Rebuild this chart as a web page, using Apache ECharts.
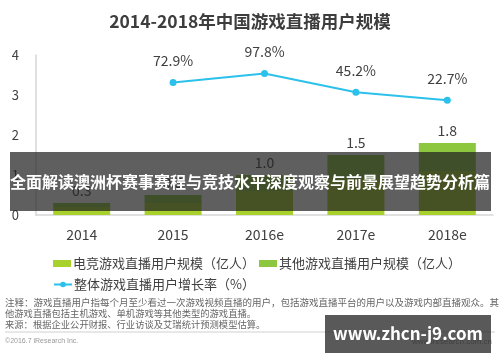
<!DOCTYPE html>
<html>
<head>
<meta charset="utf-8">
<script src="https://cdn.jsdelivr.net/npm/echarts@6/dist/echarts.min.js"></script>
<style>
html,body{margin:0;padding:0;background:#fff;}
#c{width:500px;height:362px;}
</style>
</head>
<body>
<div id="c"></div>
<script>
var categories = ['2014', '2015', '2016e', '2017e', '2018e'];
var esportsUsers = [0.2, 0.3, 0.6, 0.9, 1.1];
var otherUsers = [0.1, 0.2, 0.4, 0.6, 0.7];
var growthRate = [null, 72.9, 97.8, 45.2, 22.7];
var yTicks = [0, 1, 2, 3, 4];

var seriesNames = ['电竞游戏直播用户规模（亿人）', '其他游戏直播用户规模（亿人）', '整体游戏直播用户增长率（%）'];
var FONT = '"Noto Sans CJK SC", "Noto Sans", sans-serif';

var chart = echarts.init(document.getElementById('c'), null, {renderer: 'canvas'});
chart.setOption({
  animation: false,
  backgroundColor: '#fff',
  textStyle: {fontFamily: FONT},
  title: {
    text: '2014-2018年中国游戏直播用户规模',
    left: 'center', top: 8,
    textStyle: {fontSize: 17.5, fontWeight: 'bold', color: '#3d3d3d', fontFamily: FONT}
  },
  legend: [{
    data: [seriesNames[0], seriesNames[1]],
    left: 48, top: 252, itemWidth: 18, itemHeight: 7, itemGap: 4,
    icon: 'rect',
    textStyle: {fontSize: 13, color: '#404040', fontFamily: FONT, padding: [0, 0, 0, -3]}
  }, {
    data: [seriesNames[2]],
    left: 48, top: 273, itemWidth: 18, itemHeight: 7,
    textStyle: {fontSize: 13, color: '#404040', fontFamily: FONT, padding: [0, 0, 0, -3]}
  }],
  grid: {left: 36, right: 7, top: 55, bottom: 147},
  xAxis: {
    type: 'category', data: categories,
    axisLine: {lineStyle: {color: '#d6d6d6', width: 1.5}},
    axisTick: {show: false},
    axisLabel: {fontSize: 14, color: '#404040', margin: 13, fontFamily: FONT}
  },
  yAxis: [{
    type: 'value', min: yTicks[0], max: yTicks[yTicks.length - 1], interval: 1,
    axisLine: {show: true, lineStyle: {color: '#d6d6d6', width: 1.5}},
    axisTick: {show: false},
    splitLine: {show: false},
    axisLabel: {fontSize: 13, color: '#404040', margin: 17, align: 'right', fontFamily: FONT}
  }, {
    type: 'value', min: -300, max: 150, show: false, splitLine: {show: false}
  }],
  series: [{
    name: seriesNames[0], type: 'bar', stack: 'users', data: esportsUsers,
    barWidth: 57, itemStyle: {color: '#a9d12c'}
  }, {
    name: seriesNames[1], type: 'bar', stack: 'users', data: otherUsers,
    barWidth: 57, itemStyle: {color: '#8dc63f'},
    label: {
      show: true, position: 'top', distance: 5, fontSize: 14, color: '#404040', fontFamily: FONT,
      formatter: function (p) { return (esportsUsers[p.dataIndex] + otherUsers[p.dataIndex]).toFixed(1); }
    }
  }, {
    name: seriesNames[2], type: 'line', yAxisIndex: 1, data: growthRate,
    symbol: 'circle', symbolSize: 7,
    lineStyle: {color: '#2cc1ea', width: 2}, itemStyle: {color: '#2cc1ea'},
    label: {
      show: true, position: 'top', distance: 11, fontSize: 14, color: '#404040', fontFamily: FONT,
      formatter: function (p) { return p.value.toFixed(1) + '%'; }
    }
  }],
  graphic: [
    {type: 'text', left: 5, top: 298, style: {text: '注释：游戏直播用户指每个月至少看过一次游戏视频直播的用户，包括游戏直播平台的用户以及游戏内部直播观众。其', fill: '#666', font: '9.5px ' + FONT}},
    {type: 'text', left: 5, top: 309, style: {text: '他游戏直播包括主机游戏、单机游戏等其他类型的游戏直播。', fill: '#666', font: '9.3px ' + FONT}},
    {type: 'text', left: 5, top: 320, style: {text: '来源：根据企业公开财报、行业访谈及艾瑞统计预测模型估算。', fill: '#666', font: '9.3px ' + FONT}},
    {type: 'line', shape: {x1: 5, y1: 332, x2: 495, y2: 332}, style: {stroke: '#d0d0d0', lineWidth: 1}},
    {type: 'text', left: 5, top: 338, style: {text: '©2016.7 iResearch Inc.', fill: '#999', font: '7px Arial, sans-serif'}},
    {type: 'text', right: 8, top: 338, style: {text: 'www.iresearch.com.cn', fill: '#999', font: '8px Arial, sans-serif'}},
    {type: 'rect', shape: {x: 10, y: 152, width: 481, height: 59}, style: {fill: 'rgba(33,33,33,0.72)'}, z: 100},
    {type: 'text', x: 250, y: 182, z: 101, style: {text: '全面解读澳洲杯赛事赛程与竞技水平深度观察与前景展望趋势分析篇', fill: '#fff', font: 'bold 16px ' + FONT, align: 'center', verticalAlign: 'middle'}},
    {type: 'rect', shape: {x: 325, y: 315, width: 166, height: 38}, style: {fill: 'rgba(33,33,33,0.75)'}, z: 100},
    {type: 'text', x: 408, y: 334, z: 101, style: {text: 'www.zhcn-j9.com', fill: '#fff', font: 'bold 17px ' + FONT, align: 'center', verticalAlign: 'middle'}}
  ]
});
</script>
</body>
</html>
